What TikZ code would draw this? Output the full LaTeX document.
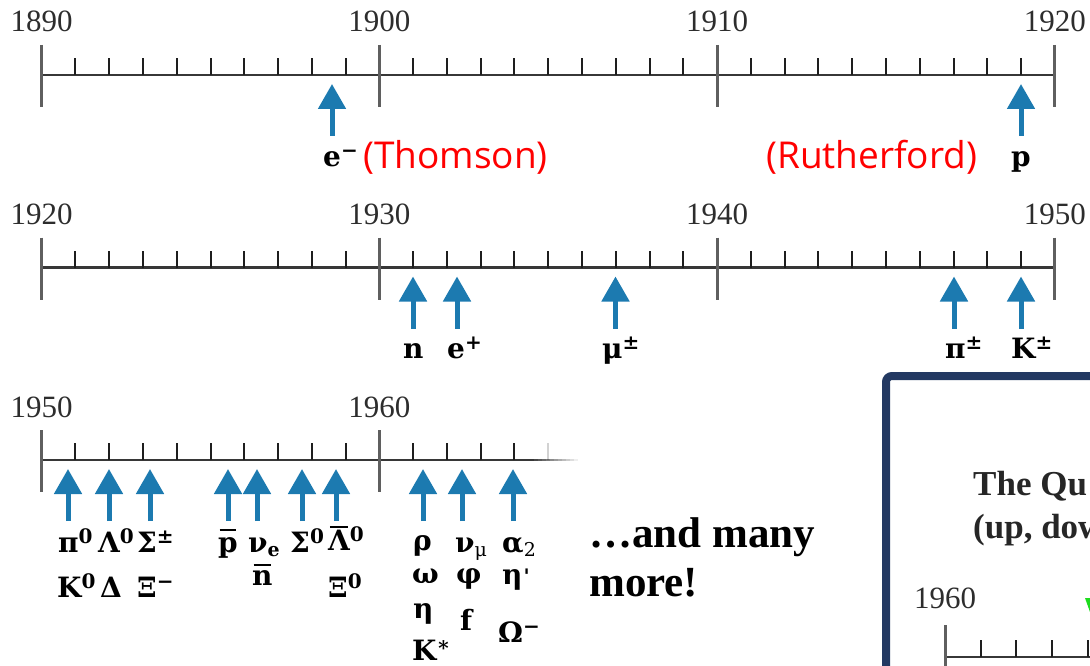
\documentclass[tikz,border=0pt]{standalone}
\usepackage{fontspec}
\setmainfont{Liberation Serif}
\newfontfamily\labfont{DejaVu Serif}
\newfontfamily\redfont{Open Sans}
\usetikzlibrary{arrows.meta}
\definecolor{pblue}{RGB}{28,122,176}
\definecolor{axcol}{RGB}{55,55,55}
\definecolor{majcol}{RGB}{95,95,95}
\definecolor{mincol}{RGB}{30,30,30}
\definecolor{yearcol}{RGB}{45,45,45}
\definecolor{boxcol}{RGB}{35,57,98}
\definecolor{qgreen}{RGB}{30,220,30}
\newcommand\sps[1]{\raisebox{9pt}{\fontsize{20}{20}\selectfont #1}}
\newcommand\sbs[1]{\raisebox{-4pt}{\fontsize{19}{19}\selectfont #1}}
\newcommand\ovl[2][19pt]{\setbox0\hbox{#2}\rlap{\hbox to\wd0{\hss\rule[#1]{0.85\wd0}{1.8pt}\hss}}\box0}
\begin{document}
\begin{tikzpicture}[x=1pt,y=-1pt,
  parr/.style={draw=pblue, line width=5pt, -{Triangle[width=27pt,length=25pt]}},
  axisln/.style={draw=axcol, line width=2.2pt},
  majtick/.style={draw=majcol, line width=3pt},
  mintick/.style={draw=mincol, line width=2pt},
  year/.style={font=\fontsize{31}{31}\selectfont, text=yearcol, anchor=base, inner sep=0pt},
  plab/.style={font=\fontsize{28}{28}\selectfont\labfont\bfseries, anchor=base west, inner sep=0pt},
  redlab/.style={font=\fontsize{37}{37}\selectfont\redfont, text=red, anchor=base west, inner sep=0pt},
  bigtxt/.style={font=\fontsize{43}{43}\selectfont\bfseries, anchor=base west, inner sep=0pt},
  boxtxt/.style={font=\fontsize{35}{35}\selectfont\bfseries, text=black!85, anchor=base west, inner sep=0pt}
]
\useasboundingbox (0,0) rectangle (1090,666);
\clip (0,0) rectangle (1090,666);

% ---- rows 1 and 2 ----
\foreach \Y in {75,267.5}{
  \draw[axisln] (41.7,\Y) -- (1054.8,\Y);
  \foreach \i in {1,...,29}{
    \draw[mintick] ({41.7+33.77*\i},\Y) -- ({41.7+33.77*\i},{\Y-17});
  }
  \foreach \i in {0,10,20,30}{
    \draw[majtick] ({41.7+33.77*\i},{\Y-30}) -- ({41.7+33.77*\i},{\Y+32});
  }
}
% ---- row 3 (fading out to the right) ----
\draw[axisln] (41.7,460) -- (530,460);
\foreach \k in {0,...,11}{
  \draw[axisln, line cap=butt, draw opacity={1-\k/12}] ({530+4*\k},460) -- ({534+4*\k},460);
}
\foreach \i in {1,...,14}{
  \draw[mintick] ({41.7+33.77*\i},460) -- ({41.7+33.77*\i},443);
}
\draw[mintick, draw opacity=0.2] ({41.7+33.77*15},460) -- ({41.7+33.77*15},443);
\foreach \i in {0,10}{
  \draw[majtick] ({41.7+33.77*\i},430) -- ({41.7+33.77*\i},492);
}

% ---- year labels ----
\node[year] (y1890) at (41.7,32) {1890};
\node[year] (y1900) at (379.4,32) {1900};
\node[year] (y1910) at (717.1,32) {1910};
\node[year] (y1920) at (1054.8,32) {1920};
\node[year] (y1920b) at (41.7,224.5) {1920};
\node[year] (y1930) at (379.4,224.5) {1930};
\node[year] (y1940) at (717.1,224.5) {1940};
\node[year] (y1950) at (1054.8,224.5) {1950};
\node[year] (y1950b) at (41.7,417) {1950};
\node[year] (y1960) at (379.4,417) {1960};

% ---- arrows ----
\foreach \x/\Y in {332/75, 1021/75,
  413/267.5, 457/267.5, 615.5/267.5, 954/267.5, 1021/267.5,
  68/460, 109/460, 150/460, 228/460, 257/460, 302/460, 336/460, 423/460, 462/460, 513/460}{
  \draw[parr] (\x,{\Y+61}) -- (\x,{\Y+9});
}

% ---- row 1 labels ----
\node[plab] (em) at (323,167) {e\sps{−}};
\node[plab] (pp) at (1011,167) {p};
\node[redlab] (thomson) at (363,168) {(Thomson)};
\node[redlab] (ruth) at (766,168) {(Rutherford)};

% ---- row 2 labels ----
\node[plab] (nn) at (403,358) {n};
\node[plab] (ep) at (447,358) {e\sps{+}};
\node[plab] (mu) at (602,358) {μ\sps{±}};
\node[plab] (pipm) at (945,358) {π\sps{±}};
\node[plab] (kpm) at (1011,358) {K\sps{±}};

% ---- row 3 labels ----
\node[plab] (pi0) at (58,552) {π\sps{0}};
\node[plab] (lam0) at (98,552) {Λ\sps{0}};
\node[plab] (sigpm) at (137,552) {Σ\sps{±}};
\node[plab] (pbar) at (218,552) {\ovl[21pt]{p}};
\node[plab] (nue) at (248,552) {ν\sbs{e}};
\node[plab] (sig0) at (290,552) {Σ\sps{0}};
\node[plab] (lambar) at (328,550) {\ovl[22pt]{Λ}\sps{0}};
\node[plab] (rho) at (413,550) {ρ};
\node[plab] (numu) at (455,552) {ν\sbs{\mdseries μ}};
\node[plab] (alpha2) at (502,552) {α\sbs{\mdseries 2}};

\node[plab] (k0) at (57,597) {K\sps{0}};
\node[plab] (delta) at (100,597) {Δ};
\node[plab] (xim) at (137,597) {Ξ\sps{−}};
\node[plab] (nbar) at (252,585) {\ovl[19pt]{n}};
\node[plab] (xi0) at (328,597) {Ξ\sps{0}};
\node[plab] (omega) at (412,583) {ω};
\node[plab] (phi) at (456,583) {φ};
\node[plab] (etap) at (502,584) {η\kern1pt\raisebox{1pt}{\fontsize{20}{20}\selectfont '}};

\node[plab] (eta) at (413,618) {η};
\node[plab] (ff) at (460,630) {f};
\node[plab] (omm) at (498,642) {Ω\sps{−}};
\node[plab] (kstar) at (412,660) {K\sps{∗}};

% ---- and many more ----
\node[bigtxt] (more1) at (589,547) {…and many};
\node[bigtxt] (more2) at (589,596) {more!};

% ---- box (bottom right) ----
\draw[line width=8pt, draw=boxcol, rounded corners=6pt] (886,900) -- (886,376) -- (1300,376);
\node[boxtxt] (qtitle) at (973,495) {The Qu};
\node[boxtxt] (qsub) at (973,538) {(up, dow};
\node[year] (y1960b) at (945,608) {1960};
\draw[axisln] (945,657) -- (1100,657);
\draw[majtick] (945,625) -- (945,700);
\foreach \k in {1,...,4}{
  \draw[mintick] ({945+35.7*\k},657) -- ({945+35.7*\k},640);
}
\fill[qgreen] (1085,598) -- (1115,598) -- (1100,640) -- cycle;
\end{tikzpicture}
\end{document}
